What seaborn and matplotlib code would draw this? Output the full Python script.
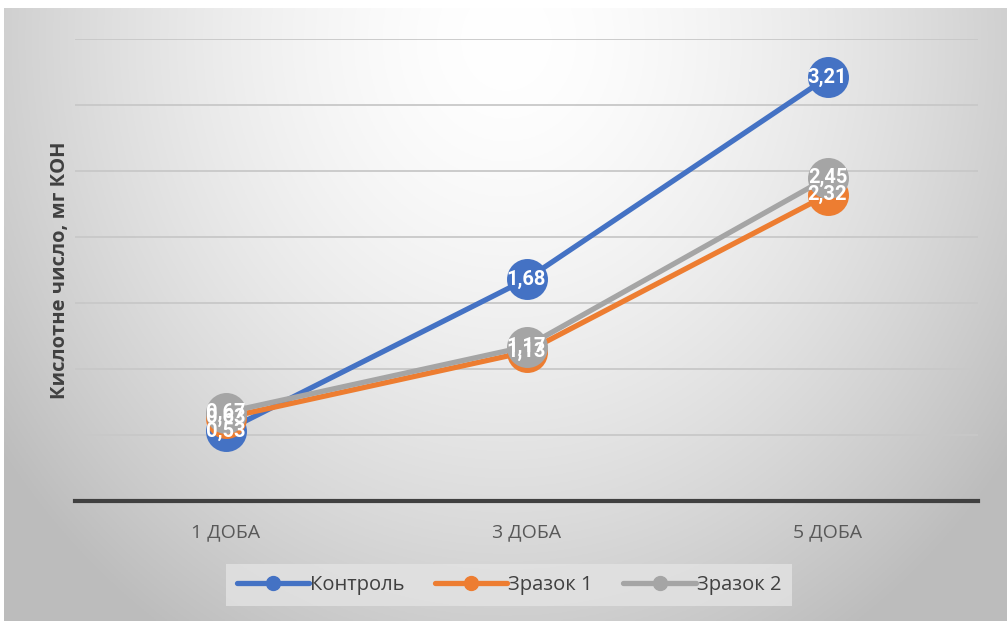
import numpy as np
import pandas as pd
import matplotlib
matplotlib.use("Agg")
import matplotlib.pyplot as plt
import seaborn as sns
from matplotlib.lines import Line2D

sns.set_theme(style="white")
plt.rcParams["font.family"] = ["Open Sans", "DejaVu Sans"]

days = ["1 ДОБА", "3 ДОБА", "5 ДОБА"]
series = ["Контроль", "Зразок 1", "Зразок 2"]
control = [0.53, 1.68, 3.21]
sample1 = [0.63, 1.13, 2.32]
sample2 = [0.67, 1.17, 2.45]
colors = ["#4472C4", "#ED7D31", "#A5A5A5"]
y_title = "Кислотне число, мг КОН"

df = pd.DataFrame({
    "pos": list(range(len(days))) * 3,
    "value": control + sample1 + sample2,
    "series": [s for s in series for _ in days],
})

fig = plt.figure(figsize=(10.07, 6.21), dpi=100)
fig.patch.set_facecolor("white")

# radial grey-to-white backdrop behind the chart
bg = fig.add_axes([0.004, 0.0, 0.996, 0.987], zorder=0)
h, w = 300, 500
yy, xx = np.mgrid[0:h, 0:w]
cx, cy = w * 0.5, h * 0.05
r = np.sqrt(((xx - cx) / (w * 0.62)) ** 2 + ((yy - cy) / (h * 1.15)) ** 2)
shade = 1.0 - 0.26 * np.clip(r, 0, 1) ** 1.6
bg.imshow(np.dstack([shade] * 3), aspect="auto", extent=[0, 1, 0, 1], origin="upper")
bg.set_axis_off()

ax = fig.add_axes([75 / 1007, 1 - 501 / 621, 903 / 1007, 462 / 621], zorder=1)
ax.patch.set_alpha(0)

sns.lineplot(data=df, x="pos", y="value", hue="series", hue_order=series,
             palette=colors, marker="o", markersize=29.5, markeredgewidth=0,
             linewidth=3.8, ax=ax, legend=False)

for vals, col in zip([control, sample1, sample2], colors):
    for i, v in enumerate(vals):
        ax.text(i, v, f"{v:.2f}".replace(".", ","), ha="center", va="center",
                color="white", fontsize=14.5, fontweight="bold", zorder=5,
                family=["Roboto", "DejaVu Sans"])

ax.set_xlim(-0.5, len(days) - 0.5)
ax.set_ylim(0, 3.5)
ax.set_yticks(np.arange(0.5, 3.51, 0.5))
ax.set_yticklabels([])
ax.tick_params(axis="y", length=0)
ax.grid(axis="y", color="#c8c8c8", linewidth=1.3)
ax.grid(axis="x", visible=False)
ax.set_axisbelow(True)
ax.set_xticks(range(len(days)))
ax.set_xticklabels(days, color="#595959", fontsize=14)
ax.tick_params(axis="x", length=0, pad=16)
for side in ["top", "right", "left"]:
    ax.spines[side].set_visible(False)
ax.spines["bottom"].set_color("#404040")
ax.spines["bottom"].set_linewidth(3)
ax.set_xlabel("")
ax.set_ylabel(y_title, fontsize=14.5, fontweight="bold", color="#404040", labelpad=0)

handles = [Line2D([0], [0], color=c, linewidth=3.8, marker="o", markersize=10)
           for c in colors]
leg = fig.legend(handles, series, loc="center", bbox_to_anchor=(509 / 1007, 1 - 585 / 621),
                 ncol=3, frameon=True, fontsize=14.5, handlelength=3.6, handletextpad=0.05,
                 columnspacing=1.5, borderpad=0.55, fancybox=False)
leg.get_frame().set_facecolor("#e3e3e3")
leg.get_frame().set_edgecolor("none")
for t in leg.get_texts():
    t.set_color("#404040")

fig.savefig("out.png", dpi=100)
